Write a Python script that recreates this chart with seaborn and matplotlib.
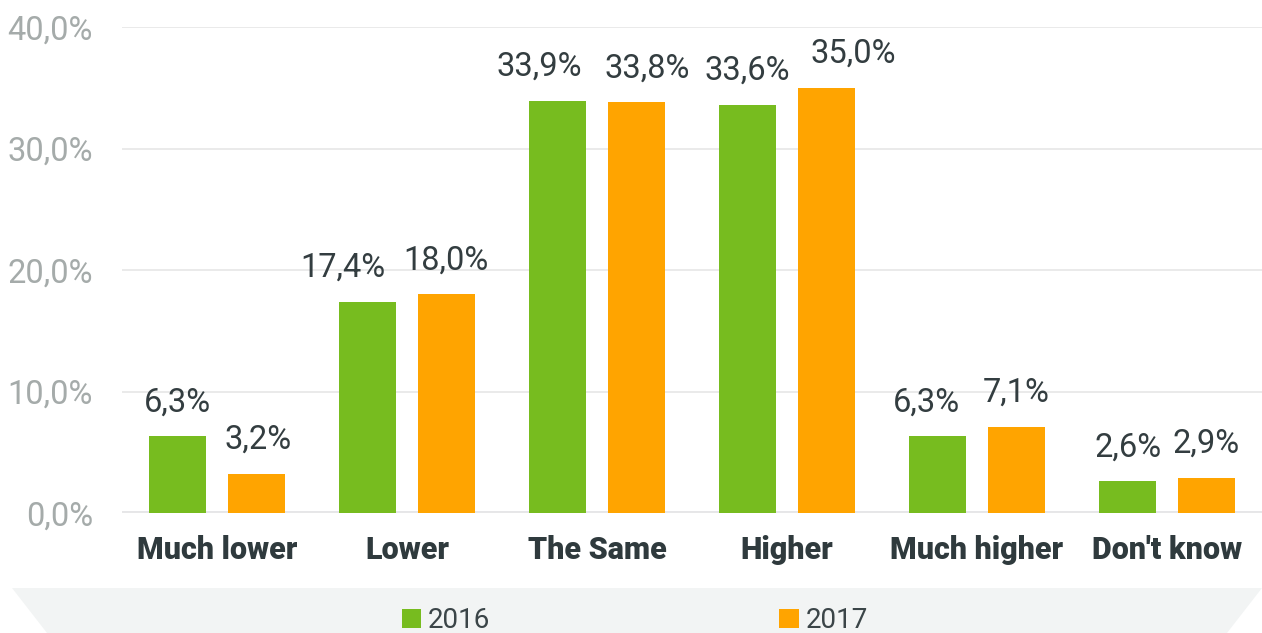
import numpy as np
import pandas as pd
import matplotlib.pyplot as plt
import seaborn as sns
from matplotlib.patches import Polygon, Patch

categories = ["Much lower", "Lower", "The Same", "Higher", "Much higher", "Don't know"]
values_2016 = [6.3, 17.4, 33.9, 33.6, 6.3, 2.6]
values_2017 = [3.2, 18.0, 33.8, 35.0, 7.1, 2.9]
years = ["2016", "2017"]
colors = {"2016": "#77BC1F", "2017": "#FFA400"}
y_ticks = [0, 10, 20, 30, 40]

# horizontal nudge of value labels (pixels), to keep neighbours apart
label_shift = {
    "2016": [0, -25, -18, 0, -11, 0],
    "2017": [2, 0, 11, 27, 0, 0],
}

df = pd.DataFrame({
    "category": categories * 2,
    "year": ["2016"] * len(categories) + ["2017"] * len(categories),
    "value": values_2016 + values_2017,
})

sns.set_theme(style="white")
plt.rcParams["font.family"] = ["Roboto", "DejaVu Sans"]

fig = plt.figure(figsize=(12.62, 6.33), dpi=100)
ax = fig.add_axes([122 / 1262, 1 - 513 / 633, 1140 / 1262, (513 - 27) / 633])

sns.barplot(data=df, x="category", y="value", hue="year", palette=colors,
            width=0.827, gap=0.28, saturation=1, edgecolor="none", ax=ax)
ax.get_legend().remove()

# value labels
for year, cont in zip(years, ax.containers):
    for bar, dx in zip(cont, label_shift[year]):
        v = bar.get_height()
        ax.annotate(f"{v:.1f}%".replace(".", ","),
                    (bar.get_x() + bar.get_width() / 2, v),
                    xytext=(dx * 0.72, 13), textcoords="offset points",
                    ha="center", va="bottom", fontsize=23.5, color="#333D40")

ax.set_ylim(0, 40)
ax.set_xlim(-0.5, len(categories) - 0.5)
ax.set_yticks(y_ticks)
ax.set_yticklabels([f"{t:.1f}%".replace(".", ",") for t in y_ticks])
ax.tick_params(axis="y", length=0, pad=21, labelsize=23.5, labelcolor="#A5ABAA")
ax.tick_params(axis="x", length=0, pad=16, labelsize=22, labelcolor="#2F3A3D")
for lbl in ax.get_xticklabels():
    lbl.set_fontweight("black")
ax.set_xlabel("")
ax.set_ylabel("")

ax.yaxis.grid(True, color="#E8E8E8", linewidth=1.3)
ax.set_axisbelow(True)
for s in ax.spines.values():
    s.set_visible(False)
ax.axhline(0, color="#E6E6E8", linewidth=3.6, zorder=0.5)

# grey legend band
band = Polygon([(12 / 1262, 1 - 588 / 633), (1262 / 1262, 1 - 588 / 633),
                (1227 / 1262, 0), (47 / 1262, 0)],
               closed=True, transform=fig.transFigure, facecolor="#F2F4F4",
               edgecolor="none", zorder=0)
fig.patches.append(band)

handles = [Patch(facecolor=colors[y], edgecolor="none") for y in years]
fig.legend(handles, years, loc="center", bbox_to_anchor=(0.503, 0.019), ncol=2,
           frameon=False, fontsize=20, labelcolor="#3B4548",
           handlelength=0.7, handleheight=0.7, handletextpad=0.25,
           columnspacing=10.4, borderpad=0, borderaxespad=0)

plt.savefig("out.png", dpi=100)
plt.close()
